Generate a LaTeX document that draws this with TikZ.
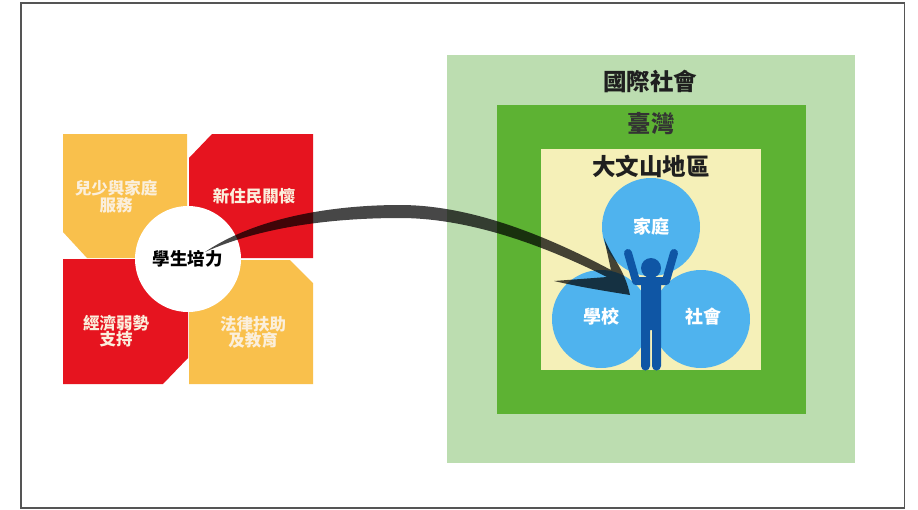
\documentclass[tikz,border=0pt]{standalone}
\usepackage{fontspec}
\newfontfamily\cjk{Noto Sans CJK TC}
\definecolor{panelyellow}{HTML}{F9C04C}
\definecolor{panelred}{HTML}{E6141F}
\definecolor{outergreen}{HTML}{BCDDB0}
\definecolor{midgreen}{HTML}{5DB233}
\definecolor{innercream}{HTML}{F5F0B8}
\definecolor{sphereblue}{HTML}{4FB3EE}
\definecolor{personblue}{HTML}{0F56A5}
\definecolor{framegrey}{HTML}{555555}
\definecolor{softwhite}{HTML}{FBEFDC}
\newcommand{\fs}[1]{\fontsize{#1}{#1}\selectfont}
\tikzset{
  x=1pt,y=-1pt,
  band/.style={rectangle,draw=none,inner sep=0pt,anchor=north west},
  title/.style={font=\cjk\bfseries\fs{23.5},text=black!88,inner sep=0pt},
  paneltext/.style={font=\cjk\bfseries\fs{16.5},text=softwhite,align=center,inner sep=0pt},
  sphere/.style={circle,fill=sphereblue,minimum size=98pt,inner sep=0pt},
  spheretext/.style={font=\cjk\bfseries\fs{18},text=white,inner sep=0pt},
  panel/.style={draw=none},
}
\begin{document}
\begin{tikzpicture}
\useasboundingbox (0,0) rectangle (918,509);
\fill[white] (0,0) rectangle (918,509);
\draw[framegrey,line width=1.5pt] (21,3) rectangle (904.5,508);
% nested regions
\node[band,fill=outergreen,minimum width=408pt,minimum height=408pt] (world) at (447,55) {};
\node[band,fill=midgreen,minimum width=309pt,minimum height=309pt] (taiwan) at (497,105) {};
\node[band,fill=innercream,minimum width=220pt,minimum height=221pt] (district) at (541,149) {};
\node[title] (worldlabel) at (650,81) {國際社會};
\node[title,text=black!80] (taiwanlabel) at (651,124) {臺灣};
\node[title] (districtlabel) at (651,166) {大文山地區};
% spheres
\node[sphere] (family) at (651,227) {};
\node[sphere] (school) at (601,319) {};
\node[sphere] (society) at (701,319) {};
\node[spheretext] (familylabel) at (651,227) {家庭};
\node[spheretext] (schoollabel) at (601,317) {學校};
\node[spheretext] (societylabel) at (703,317) {社會};
% left panels
\fill[panelyellow,panel] (63,134) -- (187,134) -- (187,258) -- (87,258) -- (63,232) -- cycle;
\fill[panelred,panel] (212,134) -- (313,134) -- (313,258) -- (189,258) -- (189,158) -- cycle;
\fill[panelred,panel] (63,259) -- (188,259) -- (188,358) -- (163,384) -- (63,384) -- cycle;
\fill[panelyellow,panel] (189,260) -- (290,260) -- (313,283) -- (313,384) -- (189,384) -- cycle;
\node[paneltext] (youth) at (116,196.5) {兒少與家庭\\服務};
\node[paneltext] (immigrant) at (254,196) {新住民關懷};
\node[paneltext] (economy) at (116,331) {經濟弱勢\\支持};
\node[paneltext] (law) at (253,332.5) {法律扶助\\及教育};
\node[circle,fill=white,minimum size=106pt,inner sep=0pt] (student) at (188,259) {};
% swoosh arrow
\coordinate (swooshstart) at (205,252);
\coordinate (swooshend) at (630,295);
\fill[black,opacity=.72]
  (swooshstart)
  .. controls (260,215) and (340,205) .. (400,205)
  .. controls (470,205) and (545,235) .. (611,270)
  -- (604,238)
  .. controls (612,258) and (625,270) .. (swooshend)
  .. controls (605,291) and (580,287) .. (554,281)
  -- (607,277)
  .. controls (545,246) and (470,218) .. (400,218)
  .. controls (340,218) and (265,225) .. (swooshstart)
  -- cycle;
\node[font=\cjk\bfseries\fs{17.5},text=black,inner sep=0pt] (studentlabel) at (187.5,259) {學生培力};
% person
\node[circle,fill=personblue,minimum size=20pt,inner sep=0pt] (head) at (651,268) {};
\draw[personblue,line width=8pt,line cap=round,line join=round] (628,253) -- (636,281) -- (666,281) -- (674,253);
\fill[personblue] (641,280) -- (661,280) -- (661,366) arc[start angle=0,end angle=180,radius=4.5] -- (652,330) -- (650,330) -- (650,366) arc[start angle=0,end angle=180,radius=4.5] -- cycle;
\end{tikzpicture}
\end{document}
